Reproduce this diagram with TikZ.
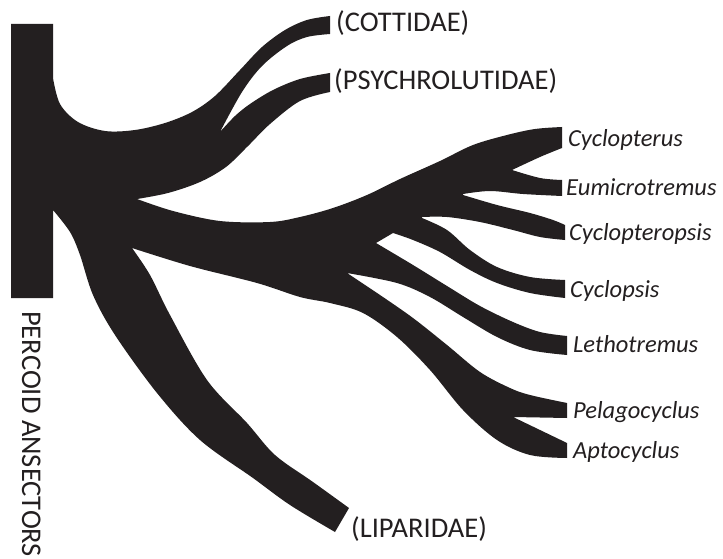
\documentclass[tikz,border=0pt]{standalone}
\usepackage{fontspec}
\setmainfont{Carlito}
\definecolor{ink}{HTML}{231F20}
\begin{document}
\begin{tikzpicture}[x=1pt,y=-1pt,
  capslabel/.style={anchor=base west,inner sep=0pt,text=ink,font=\fontsize{28.5}{31}\selectfont},
  genlabel/.style={anchor=base west,inner sep=0pt,text=ink,font=\fontsize{24.5}{28}\selectfont\itshape},
  sm/.style={smooth,tension=0.55}]
\clip (0,0) rectangle (723,559);
\fill[white] (0,0) rectangle (723,559);
\fill[ink] (11,24) -- (53,24) -- (53,78)
  -- plot[sm] coordinates{(53,78)(60,104)(78,122)(105,131)(135,130)(165,123)(192,112)(215,96)(240,70)(262,47)(285,30)(307,20)(330,16)}
  -- (330,34)
  -- plot[sm] coordinates{(330,34)(307,37)(287,46)(262,66)(242,92)(220,132)}
  -- plot[sm] coordinates{(220,132)(235,116)(250,104)(273,90)(300,79)(330,73)}
  -- (330,92)
  -- plot[sm] coordinates{(330,92)(300,101)(270,124)(248,146)(226,167)(200,182)(168,193)(137,199)}
  -- plot[sm] coordinates{(137,199)(173,211)(220,221)(270,222)(300,217)(333,208)(367,195)(400,179)(440,161)(473,145)(507,135)(535,129)(562,127)}
  -- (562,148)
  -- plot[sm] coordinates{(562,148)(540,157)(512,170)}
  -- plot[sm] coordinates{(512,170)(540,178)(562,180)}
  -- (562,196)
  -- plot[sm] coordinates{(562,196)(523,194)(490,191)(463,194)}
  -- plot[sm] coordinates{(463,195)(497,205)(530,213)(553,220)(565,225)}
  -- (565,240)
  -- plot[sm] coordinates{(565,240)(540,237)(513,230)(480,222)(447,217)(422,217)}
  -- plot[sm] coordinates{(422,218)(447,230)(470,250)(497,267)(530,277)(565,280)}
  -- (565,298)
  -- plot[sm] coordinates{(565,298)(530,293)(497,283)(470,270)(440,252)(413,240)(393,233)}
  -- (376,243)
  -- plot[sm] coordinates{(376,243)(413,265)(447,286)(480,306)(513,322)(540,332)(567,336)}
  -- (567,355)
  -- plot[sm] coordinates{(567,355)(530,350)(497,337)(463,317)(430,297)(397,283)(347,273)}
  -- plot[sm] coordinates{(347,273)(380,295)(413,318)(447,345)(480,372)(510,388)(530,395)(567,403)}
  -- (567,418) -- (513,417)
  -- plot[sm] coordinates{(513,417)(540,430)(567,443)}
  -- (567,458)
  -- plot[sm] coordinates{(567,458)(530,455)(497,440)(463,410)(430,370)(397,337)(363,313)(330,303)(300,297)(257,283)(190,266)(132,248)}
  -- plot[sm] coordinates{(132,248)(150,275)(170,315)(207,380)(247,423)(275,455)(313,482)(349,508)}
  -- (335,532)
  -- plot[sm] coordinates{(335,532)(290,505)(253,478)(200,440)(157,393)(115,335)(93,295)(80,255)(70,232)(53,210)}
  -- (53,298) -- (11,298) -- cycle;
\node[capslabel] (cott) at (336,32) {(COTTIDAE)};
\node[capslabel] (psych) at (334,90) {(PSYCHROLUTIDAE)};
\node[capslabel] (lip) at (351,537) {(LIPARIDAE)};
\node[capslabel,rotate=-90] (perc) at (22,311) {PERCOID ANSECTORS};
\node[genlabel] (cyclopterus) at (568,147) {Cyclopterus};
\node[genlabel] (eumi) at (566,195) {Eumicrotremus};
\node[genlabel] (cyclopteropsis) at (569,240) {Cyclopteropsis};
\node[genlabel] (cyclopsis) at (570,297) {Cyclopsis};
\node[genlabel] (letho) at (573,352) {Lethotremus};
\node[genlabel] (pelago) at (573,418) {Pelagocyclus};
\node[genlabel] (apto) at (573,458) {Aptocyclus};
\end{tikzpicture}
\end{document}
